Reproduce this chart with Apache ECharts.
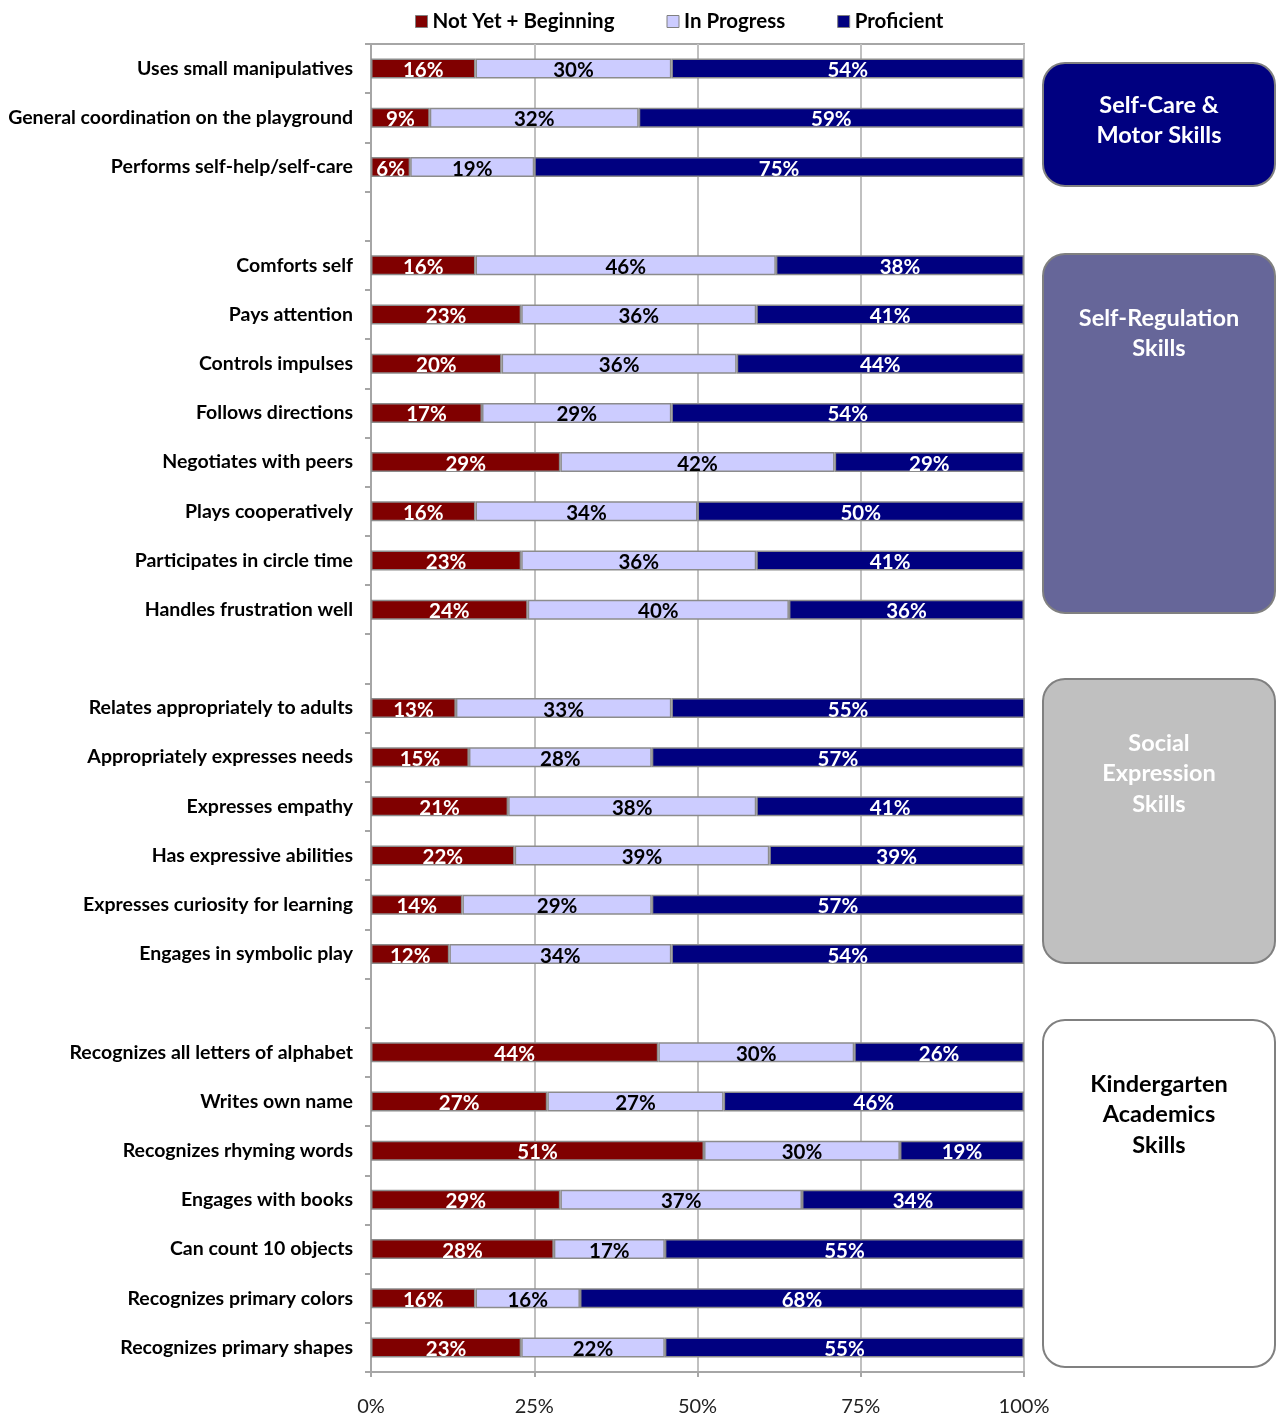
<!DOCTYPE html>
<html>
<head>
<meta charset="utf-8">
<script src="https://cdn.jsdelivr.net/npm/echarts@6/dist/echarts.min.js"></script>
<style>
  html, body { margin: 0; padding: 0; background: #fff; }
  #chart { width: 1283px; height: 1419px; }
</style>
</head>
<body>
<div id="chart"></div>
<script>
// Skill rows, top to bottom; empty strings are spacer rows between groups
const skills = [
  'Uses small manipulatives',
  'General coordination on the playground',
  'Performs self-help/self-care',
  '',
  'Comforts self',
  'Pays attention',
  'Controls impulses',
  'Follows directions',
  'Negotiates with peers',
  'Plays cooperatively',
  'Participates in circle time',
  'Handles frustration well',
  '',
  'Relates appropriately to adults',
  'Appropriately expresses needs',
  'Expresses empathy',
  'Has expressive abilities',
  'Expresses curiosity for learning',
  'Engages in symbolic play',
  '',
  'Recognizes all letters of alphabet',
  'Writes own name',
  'Recognizes rhyming words',
  'Engages with books',
  'Can count 10 objects',
  'Recognizes primary colors',
  'Recognizes primary shapes'
];

const notYetBeginning = [16, 9, 6, null, 16, 23, 20, 17, 29, 16, 23, 24, null, 13, 15, 21, 22, 14, 12, null, 44, 27, 51, 29, 28, 16, 23];
const inProgress      = [30, 32, 19, null, 46, 36, 36, 29, 42, 34, 36, 40, null, 33, 28, 38, 39, 29, 34, null, 30, 27, 30, 37, 17, 16, 22];
const proficient      = [54, 59, 75, null, 38, 41, 44, 54, 29, 50, 41, 36, null, 55, 57, 41, 39, 57, 54, null, 26, 46, 19, 34, 55, 68, 55];

const seriesNames = ['Not Yet + Beginning', 'In Progress', 'Proficient'];
const seriesColors = ['#800000', '#CCCCFF', '#000080'];
const labelColors = ['#ffffff', '#000000', '#ffffff'];

const xTicks = ['0%', '25%', '50%', '75%', '100%'];

// Group panels on the right: title lines, fill, text colour, vertical extent
const groups = [
  { lines: ['Self-Care &', 'Motor Skills'], fill: '#000080', text: '#ffffff', y0: 63, y1: 186, ty: 105 },
  { lines: ['Self-Regulation', 'Skills'], fill: '#666699', text: '#ffffff', y0: 254, y1: 613, ty: 318 },
  { lines: ['Social', 'Expression', 'Skills'], fill: '#C0C0C0', text: '#ffffff', y0: 679, y1: 963, ty: 743 },
  { lines: ['Kindergarten', 'Academics', 'Skills'], fill: '#ffffff', text: '#000000', y0: 1020, y1: 1367, ty: 1084 }
];

const FONT = 'Lato, "DejaVu Sans", sans-serif';

const chart = echarts.init(document.getElementById('chart'), null, { renderer: 'canvas' });

const series = [notYetBeginning, inProgress, proficient].map((vals, i) => ({
  name: seriesNames[i],
  type: 'bar',
  stack: 'total',
  barWidth: 20,
  data: vals.map(v => (v === null ? '-' : v)),
  itemStyle: { color: seriesColors[i], borderColor: '#8c8c8c', borderWidth: 1.5 },
  label: {
    show: true,
    position: 'inside',
    offset: [0, 2],
    formatter: p => p.value + '%',
    color: labelColors[i],
    fontFamily: FONT,
    fontWeight: 'bold',
    fontSize: 20.5
  },
  emphasis: { disabled: true }
}));

const graphics = [];
groups.forEach(g => {
  graphics.push({
    type: 'rect',
    shape: { x: 1043, y: g.y0, width: 232, height: g.y1 - g.y0, r: 22 },
    style: { fill: g.fill, stroke: '#808080', lineWidth: 2 }
  });
  g.lines.forEach((line, k) => {
    graphics.push({
      type: 'text',
      x: 1159,
      y: g.ty + k * 30.5,
      style: {
        text: line,
        fill: g.text,
        font: 'bold 23.5px ' + FONT,
        align: 'center',
        verticalAlign: 'middle'
      }
    });
  });
});

chart.setOption({
  animation: false,
  backgroundColor: '#ffffff',
  legend: {
    data: seriesNames,
    left: 410,
    top: 6,
    icon: 'rect',
    itemWidth: 12,
    itemHeight: 12,
    itemGap: 52,
    textStyle: { fontFamily: FONT, fontWeight: 'bold', fontSize: 20.5, color: '#000' },
    itemStyle: { borderColor: '#808080', borderWidth: 1 }
  },
  grid: {
    left: 371,
    right: 259,
    top: 44,
    height: 1328,
    show: true,
    borderColor: '#a6a6a6',
    borderWidth: 2,
    backgroundColor: 'transparent'
  },
  xAxis: {
    type: 'value',
    min: 0,
    max: 100,
    interval: 25,
    axisLine: { show: true, lineStyle: { color: '#a6a6a6', width: 2 } },
    axisTick: { show: true, length: 5, lineStyle: { color: '#a6a6a6', width: 2 } },
    splitLine: { show: true, lineStyle: { color: '#c0c0c0', width: 2 } },
    axisLabel: {
      formatter: v => xTicks[v / 25],
      margin: 25,
      fontFamily: FONT,
      fontSize: 20,
      color: '#222'
    }
  },
  yAxis: {
    type: 'category',
    inverse: true,
    data: skills,
    axisLine: { show: true, lineStyle: { color: '#a6a6a6', width: 2 } },
    axisTick: { show: true, length: 6, lineStyle: { color: '#a6a6a6', width: 2 } },
    axisLabel: {
      margin: 18,
      fontFamily: FONT,
      fontWeight: 'bold',
      fontSize: 19.5,
      color: '#000',
      interval: 0
    }
  },
  series: series,
  graphic: graphics
});
</script>
</body>
</html>
